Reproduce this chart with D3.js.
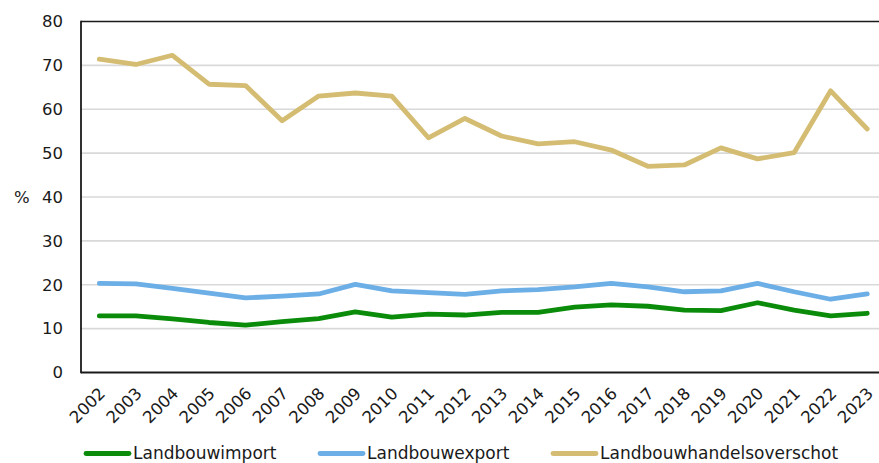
<!DOCTYPE html>
<html>
<head>
<meta charset="utf-8">
<script src="https://cdn.jsdelivr.net/npm/d3@7"></script>
<style>
  html, body { margin: 0; padding: 0; background: #fff; }
  svg { display: block; font-family: "DejaVu Sans", Verdana, sans-serif; }
</style>
</head>
<body>
<svg id="chart" width="879" height="463"></svg>
<script>
const years = ["2002","2003","2004","2005","2006","2007","2008","2009","2010","2011","2012","2013","2014","2015","2016","2017","2018","2019","2020","2021","2022","2023"];
const landbouwimport = [12.9,12.9,12.2,11.4,10.8,11.6,12.3,13.8,12.6,13.3,13.1,13.7,13.7,14.9,15.4,15.1,14.2,14.1,15.9,14.2,12.9,13.5];
const landbouwexport = [20.3,20.2,19.2,18.1,17.0,17.4,17.9,20.1,18.6,18.2,17.8,18.6,18.9,19.5,20.3,19.5,18.4,18.6,20.3,18.4,16.7,17.9];
const landbouwhandelsoverschot = [71.4,70.2,72.3,65.7,65.4,57.4,63.0,63.7,63.0,53.5,57.9,53.9,52.1,52.6,50.7,47.0,47.3,51.2,48.7,50.1,64.2,55.5];
const yTicks = [0,10,20,30,40,50,60,70,80];
const seriesNames = ["Landbouwimport","Landbouwexport","Landbouwhandelsoverschot"];
const seriesColors = ["#0a8c0a","#6caee6","#d4bd72"];

(function () {
const svg = d3.select("#chart");
const pLeft = 81, pTop = 21.5, pBottom = 372.5, pRight = 885.5;

const x = d3.scaleBand().domain(years).range([pLeft, pRight]).padding(0);
const y = d3.scaleLinear().domain([0, 80]).range([pBottom, pTop]);

// gridlines
svg.append("g").selectAll("line").data(yTicks.filter(t => t > 0 && t < 80)).join("line")
  .attr("x1", pLeft).attr("x2", 879)
  .attr("y1", d => y(d)).attr("y2", d => y(d))
  .attr("stroke", "#d9d9d9").attr("stroke-width", 1.6);

// top line (80)
svg.append("line").attr("x1", pLeft).attr("x2", 879).attr("y1", y(80)).attr("y2", y(80))
  .attr("stroke", "#1a1a1a").attr("stroke-width", 1.6);

// y axis
const yAxis = svg.append("g").attr("transform", `translate(${pLeft},0)`)
  .call(d3.axisLeft(y).tickValues(yTicks).tickSize(0).tickPadding(18).tickFormat(d3.format("d")));
yAxis.select(".domain").remove();
yAxis.selectAll("text").attr("font-size", 16.5).attr("fill", "#1a1a1a")
  .attr("font-family", "DejaVu Sans, sans-serif");

svg.append("text").attr("x", 14).attr("y", y(40)).attr("dy", "0.35em")
  .attr("font-size", 16.5).attr("fill", "#1a1a1a").text("%");

// x axis
const xAxis = svg.append("g").attr("transform", `translate(0,${pBottom})`)
  .call(d3.axisBottom(x).tickSize(0).tickPadding(0));
xAxis.select(".domain").remove();
xAxis.selectAll("text")
  .attr("font-size", 16.5).attr("fill", "#1a1a1a")
  .attr("font-family", "DejaVu Sans, sans-serif")
  .attr("text-anchor", "end")
  .attr("dy", "0")
  .attr("transform", "translate(7,22) rotate(-45)");

// axis lines
svg.append("line").attr("x1", pLeft).attr("x2", pLeft).attr("y1", pTop - 0.8).attr("y2", pBottom + 0.8)
  .attr("stroke", "#1a1a1a").attr("stroke-width", 1.8);
svg.append("line").attr("x1", pLeft).attr("x2", 879).attr("y1", pBottom).attr("y2", pBottom)
  .attr("stroke", "#1a1a1a").attr("stroke-width", 1.8);

// lines
const allSeries = [landbouwimport, landbouwexport, landbouwhandelsoverschot];
const line = d3.line()
  .x((d, i) => x(years[i]) + x.bandwidth() / 2)
  .y(d => y(d));
[2, 1, 0].forEach(k => {
  svg.append("path").datum(allSeries[k])
    .attr("fill", "none").attr("stroke", seriesColors[k])
    .attr("stroke-width", 4.8).attr("stroke-linejoin", "round").attr("stroke-linecap", "round")
    .attr("d", line);
});

// legend
const legendX = [86, 320, 553];
const legendY = 453.5;
const lg = svg.append("g").selectAll("g").data(seriesNames).join("g")
  .attr("transform", (d, i) => `translate(${legendX[i]},${legendY})`);
lg.append("line").attr("x1", 0).attr("x2", 43).attr("y1", 0).attr("y2", 0)
  .attr("stroke", (d, i) => seriesColors[i]).attr("stroke-width", 4.8).attr("stroke-linecap", "round");
lg.append("text").attr("x", 47).attr("y", 0).attr("dy", "0.35em")
  .attr("font-size", 17).attr("fill", "#1a1a1a").text(d => d);
})();
</script>
</body>
</html>
